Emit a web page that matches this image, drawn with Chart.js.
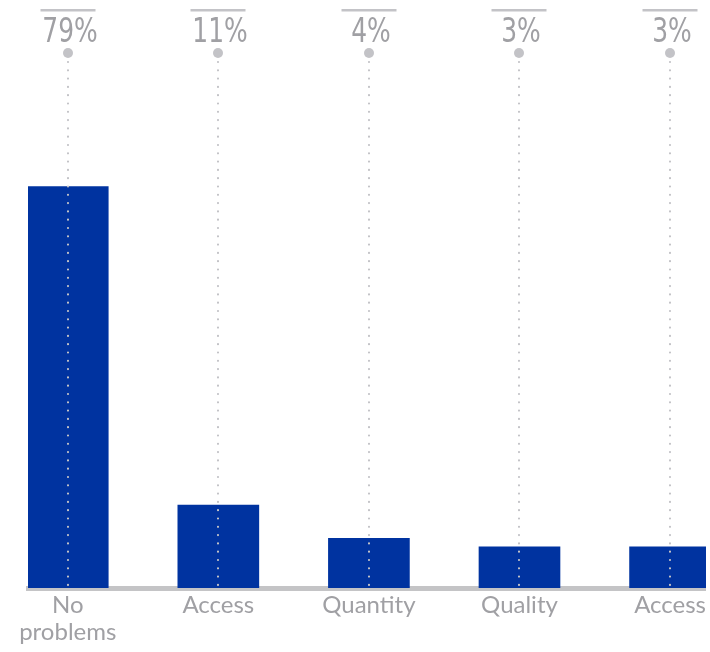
<!DOCTYPE html>
<html>
<head>
<meta charset="utf-8">
<script src="https://cdn.jsdelivr.net/npm/chart.js@4"></script>
<style>
  html, body { margin: 0; padding: 0; background: #ffffff; }
  #wrap { width: 710px; height: 652px; position: relative; }
</style>
</head>
<body>
<div id="wrap"><canvas id="c"></canvas></div>
<script>
// ---- data ----
const categories = [['No', 'problems'], 'Access', 'Quantity', 'Quality', 'Access'];
const positions = [0, 1, 2, 3, 4];
const percentLabels = ['79%', '11%', '4%', '3%', '3%'];
const barValues = [79, 16.3, 9.8, 8.1, 8.1];

const GREY = '#c3c3c7';
const TEXT_GREY = '#a0a0a4';

const topDecor = {
  id: 'topDecor',
  afterDatasetsDraw(chart) {
    const { ctx, chartArea, scales: { x } } = chart;
    ctx.save();
    positions.forEach((v, i) => {
      const px = Math.round(x.getPixelForValue(v));
      // dotted leader
      ctx.strokeStyle = GREY;
      ctx.lineWidth = 2.2;
      ctx.lineCap = 'round';
      ctx.setLineDash([0, 8.3]);
      ctx.beginPath();
      ctx.moveTo(px, chartArea.top + 9);
      ctx.lineTo(px, chartArea.bottom);
      ctx.stroke();
      ctx.setLineDash([]);
      // dot
      ctx.fillStyle = GREY;
      ctx.beginPath();
      ctx.arc(px, chartArea.top, 5, 0, Math.PI * 2);
      ctx.fill();
      // overline
      ctx.fillRect(px - 27.5, chartArea.top - 44, 55, 2.5);
      // percent label (condensed)
      ctx.save();
      ctx.translate(px + 2, chartArea.top - 11);
      ctx.scale(0.84, 1);
      ctx.font = '33px "Liberation Sans Narrow", "DejaVu Sans Condensed", sans-serif';
      ctx.fillStyle = TEXT_GREY;
      ctx.textAlign = 'center';
      ctx.textBaseline = 'alphabetic';
      ctx.fillText(percentLabels[i], 0, 0);
      ctx.restore();
    });
    ctx.restore();
  }
};

new Chart(document.getElementById('c'), {
  type: 'bar',
  data: {
    datasets: [{
      data: positions.map((p, i) => ({ x: p, y: barValues[i] })),
      backgroundColor: '#0033a0',
      barThickness: 81,
      borderWidth: 0
    }]
  },
  options: {
    responsive: true,
    maintainAspectRatio: false,
    animation: false,
    layout: { padding: { top: 53, left: 28, right: 0, bottom: 0 } },
    plugins: { legend: { display: false }, tooltip: { enabled: false } },
    scales: {
      x: {
        type: 'linear',
        offset: false,
        min: -0.264,
        max: 4.238,
        afterBuildTicks: (axis) => { axis.ticks = positions.map(v => ({ value: v })); },
        afterFit: (axis) => { axis.height = 64; },
        grid: { display: false, drawTicks: false, offset: false },
        border: { display: true, color: '#c4c4c6', width: 5 },
        ticks: {
          autoSkip: false,
          maxRotation: 0,
          padding: 4,
          color: TEXT_GREY,
          font: { family: 'Lato', size: 24, lineHeight: 1.125 },
          callback: (v) => categories[v]
        }
      },
      y: {
        display: false,
        min: 0,
        max: 105.3
      }
    }
  },
  plugins: [topDecor]
});
</script>
</body>
</html>
